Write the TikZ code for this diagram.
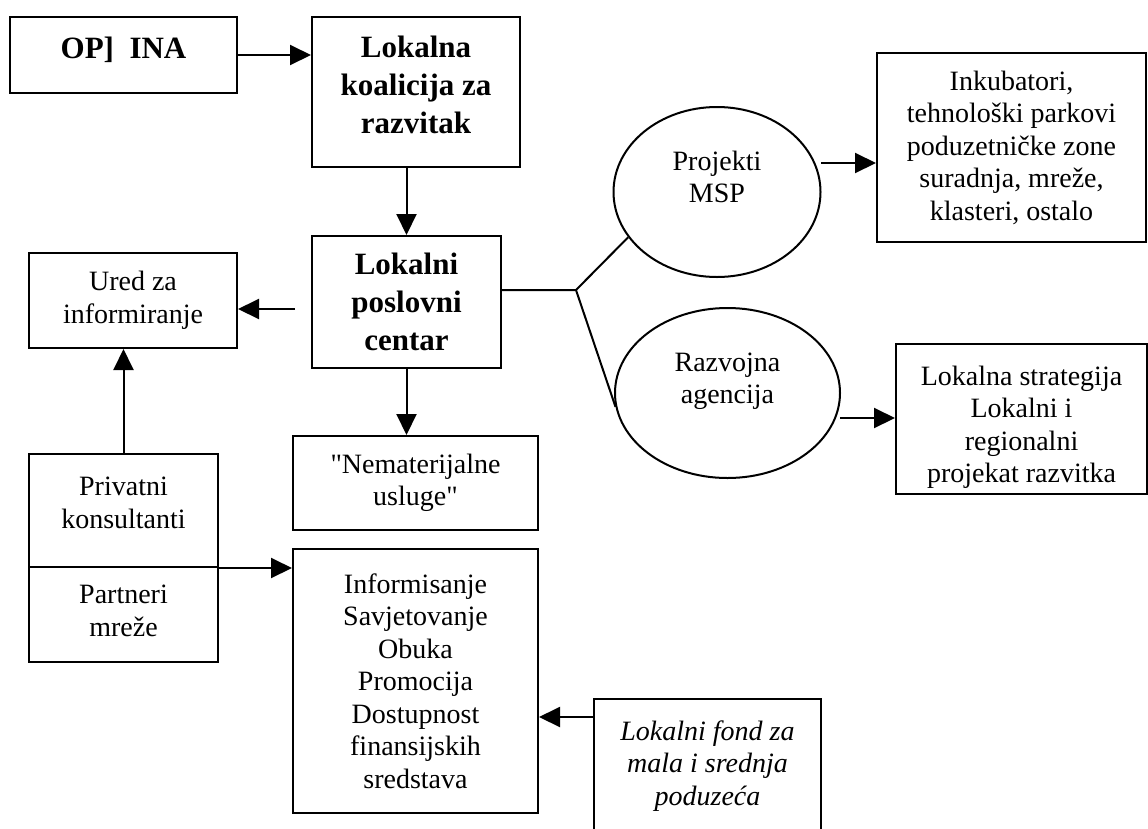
\documentclass[tikz,border=0pt]{standalone}
\usepackage{fontspec}
\setmainfont{Liberation Serif}[Ligatures=TeXOff]
\usetikzlibrary{positioning,arrows.meta,shapes.geometric}

\begin{document}
\begin{tikzpicture}[x=1pt,y=-1pt,
		box/.style={draw,line width=2pt,inner sep=0pt,align=center,font=\fontsize{28}{32.5}\selectfont},
		bbox/.style={box,font=\fontsize{31}{38}\selectfont\bfseries},
		oval/.style={box,ellipse,text depth=30pt},
		arr/.style={line width=2pt,-{Triangle[length=21pt,width=20pt]}},
		ln/.style={line width=2pt}]
	\useasboundingbox (0,0) rectangle (1148,828);
	
	\node (o1) [bbox,minimum width=227pt,minimum height=76pt,text depth=15pt]  at (123.5,55) {OP]\ \ INA};
	\node (k1) [bbox,minimum width=208pt,minimum height=150pt,text depth=14pt] at (416,92)   {Lokalna\\koalicija za\\razvitak};
	\node (p1) [bbox,minimum width=189pt,minimum height=132pt] at (406.5,302) {Lokalni\\poslovni\\centar};
	\node (u1) [box,minimum width=208pt,minimum height=95pt]   at (133,300.5) {Ured za\\informiranje};
	\node (pa) [box,minimum width=189pt,minimum height=113pt,text depth=16pt] at (123.5,510.5) {Privatni\\konsultanti};
	\node (pb) [box,minimum width=189pt,minimum height=95pt,text depth=8pt]   at (123.5,614.5) {Partneri\\mreže};
	\node (n1) [box,minimum width=245pt,minimum height=94pt]   at (415.5,483) {"Nematerijalne\\usluge"};
	\node (i1) [box,minimum width=245pt,minimum height=264pt]  at (415.5,681) {Informisanje\\Savjetovanje\\Obuka\\Promocija\\Dostupnost\\finansijskih\\sredstava};
	\node (f1) [box,minimum width=227pt,minimum height=134pt]  at (707.5,766) {\itshape Lokalni fond za\\\itshape mala i srednja\\\itshape poduzeća};
	
	\node (m1) [oval,minimum width=207pt,minimum height=170pt] at (717,192)   {Projekti\\MSP};
	\node (r1) [oval,minimum width=225pt,minimum height=170pt] at (727.5,393) {Razvojna\\agencija};
	\node (t1) [box,minimum width=269pt,minimum height=189pt]  at (1011.5,147.5) {Inkubatori,\\tehnološki parkovi\\poduzetničke zone\\suradnja, mreže,\\klasteri, ostalo};
	\node (t2) [box,minimum width=251pt,minimum height=150pt,text height=133pt] at (1021.5,419) {Lokalna strategija\\Lokalni i\\regionalni\\projekat razvitka};
	
	\coordinate (c1) at (295,309);
	\coordinate (c2) at (576,290);
	\coordinate (c3) at (821,163);
	\coordinate (c4) at (840,418);
	\coordinate (c5) at (0,717);
	
	\draw[arr] (o1.east) -- (o1.east -| k1.west);
	\draw[arr] (k1.south -| p1.north) -- (p1.north);
	\draw[arr] (c1) -- (c1 -| u1.east);
	\draw[ln]  (c2 -| p1.east) -- (c2) -- (m1.207);
	\draw[ln]  (c2) -- (r1.187);
	\draw[arr] (c3) -- (c3 -| t1.west);
	\draw[arr] (c4) -- (c4 -| t2.west);
	\draw[arr] (p1.south) -- (p1.south |- n1.north);
	\draw[arr] (pa.north) -- (pa.north |- u1.south);
	\draw[arr] (pa.south east) -- (pa.south east -| i1.west);
	\draw[arr] (c5 -| f1.west) -- (c5 -| i1.east);
\end{tikzpicture}
\end{document}
